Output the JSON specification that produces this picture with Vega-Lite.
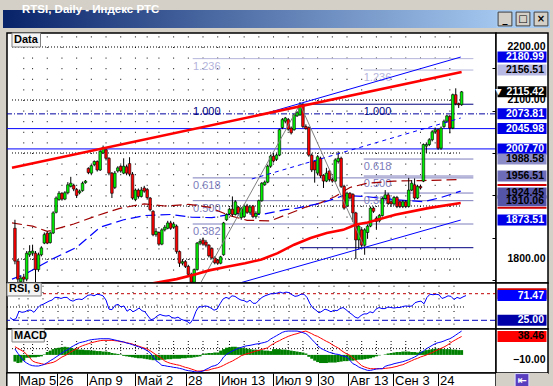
{
"$schema": "https://vega.github.io/schema/vega-lite/v6.json",
"background": "#d4d0c8",
"padding": {"left": 3, "top": 3, "right": 3, "bottom": 5},
"config": {"view": {"stroke": null}, "font": "Liberation Sans",
  "axis": {"domain": false, "grid": false, "ticks": false, "labels": false, "title": null, "minExtent": 0}},
"datasets": {
"px": [
{"t":1,"o":1858,"h":1874,"l":1790,"c":1796,"r":30,"m":12.3,"s":17.1,"g":-14},
{"t":2,"o":1796,"h":1800,"l":1756,"c":1762,"r":26,"m":3.2,"s":13.6,"g":-17},
{"t":3,"o":1757,"h":1768,"l":1755,"c":1764,"r":28,"m":-4.4,"s":10.2,"g":-16},
{"t":4,"o":1766,"h":1772,"l":1756,"c":1762,"r":42,"m":-12.8,"s":6.7,"g":-12},
{"t":5,"o":1762,"h":1815,"l":1758,"c":1811,"r":40,"m":-17,"s":1.1,"g":-6},
{"t":6,"o":1808,"h":1826,"l":1804,"c":1814,"r":41,"m":-20.5,"s":-5.8,"g":-6},
{"t":7,"o":1811,"h":1827,"l":1806,"c":1815,"r":44,"m":-22.5,"s":-12.8,"g":-5},
{"t":8,"o":1811,"h":1815,"l":1755,"c":1780,"r":44,"m":-23.2,"s":-15.6,"g":-5},
{"t":9,"o":1780,"h":1812,"l":1776,"c":1808,"r":40,"m":-23.2,"s":-17,"g":-4},
{"t":10,"o":1808,"h":1824,"l":1805,"c":1821,"r":47,"m":-21.8,"s":-18.4,"g":-3},
{"t":11,"o":1830,"h":1850,"l":1828,"c":1846,"r":53,"m":-19.8,"s":-19.8,"g":1},
{"t":12,"o":1849,"h":1852,"l":1828,"c":1830,"r":55,"m":-16.3,"s":-18.4,"g":6},
{"t":13,"o":1831,"h":1852,"l":1829,"c":1849,"r":58,"m":-12.1,"s":-17,"g":9},
{"t":14,"o":1849,"h":1890,"l":1847,"c":1887,"r":61,"m":-8.6,"s":-15.6,"g":12},
{"t":15,"o":1888,"h":1918,"l":1886,"c":1915,"r":63,"m":-4.4,"s":-12.8,"g":14},
{"t":16,"o":1912,"h":1928,"l":1910,"c":1924,"r":68,"m":-0.3,"s":-8.6,"g":15},
{"t":17,"o":1924,"h":1926,"l":1910,"c":1913,"r":68,"m":3.9,"s":-4.4,"g":16},
{"t":18,"o":1913,"h":1928,"l":1911,"c":1925,"r":66,"m":8.1,"s":-1.7,"g":17},
{"t":19,"o":1925,"h":1945,"l":1922,"c":1940,"r":68,"m":10.9,"s":1.8,"g":16},
{"t":20,"o":1937,"h":1955,"l":1935,"c":1943,"r":68,"m":15.7,"s":6,"g":15},
{"t":21,"o":1939,"h":1942,"l":1928,"c":1932,"r":63,"m":19.2,"s":9.5,"g":13},
{"t":22,"o":1931,"h":1934,"l":1915,"c":1920,"r":61,"m":22.7,"s":12.9,"g":12},
{"t":23,"o":1925,"h":1931,"l":1922,"c":1928,"r":64,"m":25.5,"s":16.4,"g":11},
{"t":24,"o":1929,"h":1946,"l":1927,"c":1943,"r":65,"m":26.9,"s":19.2,"g":11},
{"t":25,"o":1944,"h":1949,"l":1942,"c":1947,"r":64,"m":28.3,"s":21.3,"g":10},
{"t":26,"o":1971,"h":1973,"l":1960,"c":1963,"r":68,"m":30.4,"s":23.4,"g":10},
{"t":27,"o":1962,"h":1978,"l":1960,"c":1976,"r":72,"m":31.8,"s":25.5,"g":9},
{"t":28,"o":1978,"h":1986,"l":1975,"c":1984,"r":73,"m":32.5,"s":26.9,"g":9},
{"t":29,"o":1984,"h":1986,"l":1965,"c":1968,"r":71,"m":33.1,"s":28.3,"g":8},
{"t":30,"o":1968,"h":2006,"l":1966,"c":2003,"r":74,"m":33.8,"s":29.7,"g":8},
{"t":31,"o":2000,"h":2014,"l":1998,"c":2010,"r":73,"m":33.8,"s":30.4,"g":7},
{"t":32,"o":2006,"h":2008,"l":1986,"c":1990,"r":71,"m":33.8,"s":30.4,"g":7},
{"t":33,"o":1990,"h":1992,"l":1958,"c":1962,"r":63,"m":33.8,"s":30.4,"g":6},
{"t":34,"o":1962,"h":1964,"l":1915,"c":1924,"r":46,"m":32.5,"s":30.4,"g":4},
{"t":35,"o":1935,"h":1966,"l":1932,"c":1962,"r":45,"m":31.1,"s":29.7,"g":3},
{"t":36,"o":1966,"h":1975,"l":1963,"c":1972,"r":53,"m":29.7,"s":29,"g":2},
{"t":37,"o":1975,"h":1977,"l":1963,"c":1966,"r":55,"m":28.3,"s":27.6,"g":1},
{"t":38,"o":1962,"h":1990,"l":1960,"c":1975,"r":50,"m":26.9,"s":26.9,"g":-2},
{"t":39,"o":1974,"h":1978,"l":1958,"c":1962,"r":52,"m":24.8,"s":25.5,"g":-3},
{"t":40,"o":1980,"h":1992,"l":1956,"c":1960,"r":42,"m":23.4,"s":24.1,"g":-4},
{"t":41,"o":1960,"h":1964,"l":1912,"c":1915,"r":46,"m":21.3,"s":22.7,"g":-5},
{"t":42,"o":1912,"h":1933,"l":1909,"c":1930,"r":41,"m":19.2,"s":19.9,"g":-6},
{"t":43,"o":1930,"h":1933,"l":1914,"c":1918,"r":44,"m":17.1,"s":18.5,"g":-7},
{"t":44,"o":1918,"h":1936,"l":1916,"c":1930,"r":48,"m":15,"s":16.4,"g":-7},
{"t":45,"o":1934,"h":1938,"l":1925,"c":1928,"r":43,"m":12.3,"s":14.4,"g":-8},
{"t":46,"o":1931,"h":1934,"l":1912,"c":1916,"r":41,"m":8.8,"s":12.3,"g":-9},
{"t":47,"o":1915,"h":1917,"l":1890,"c":1893,"r":33,"m":4.6,"s":8.8,"g":-10},
{"t":48,"o":1890,"h":1892,"l":1843,"c":1846,"r":26,"m":-3.7,"s":4.6,"g":-11},
{"t":49,"o":1846,"h":1858,"l":1842,"c":1852,"r":28,"m":-12.1,"s":0.4,"g":-11},
{"t":50,"o":1850,"h":1852,"l":1825,"c":1828,"r":33,"m":-16.3,"s":-3.7,"g":-11},
{"t":51,"o":1828,"h":1858,"l":1826,"c":1855,"r":36,"m":-21.8,"s":-7.9,"g":-10},
{"t":52,"o":1855,"h":1864,"l":1852,"c":1860,"r":34,"m":-22.5,"s":-12.8,"g":-10},
{"t":53,"o":1858,"h":1872,"l":1856,"c":1868,"r":33,"m":-23.9,"s":-15.6,"g":-9},
{"t":54,"o":1868,"h":1872,"l":1855,"c":1858,"r":34,"m":-24.6,"s":-17.7,"g":-9},
{"t":55,"o":1860,"h":1870,"l":1857,"c":1866,"r":30,"m":-26,"s":-19.1,"g":-8},
{"t":56,"o":1862,"h":1865,"l":1810,"c":1814,"r":29,"m":-26.7,"s":-20.5,"g":-8},
{"t":57,"o":1814,"h":1816,"l":1785,"c":1792,"r":31,"m":-28.1,"s":-21.8,"g":-8},
{"t":58,"o":1792,"h":1800,"l":1788,"c":1795,"r":27,"m":-29.5,"s":-23.9,"g":-7},
{"t":59,"o":1795,"h":1798,"l":1783,"c":1786,"r":25,"m":-31.6,"s":-26,"g":-7},
{"t":60,"o":1786,"h":1789,"l":1768,"c":1771,"r":23,"m":-33,"s":-27.4,"g":-6},
{"t":61,"o":1771,"h":1774,"l":1752,"c":1756,"r":19,"m":-33.7,"s":-29.5,"g":-6},
{"t":62,"o":1756,"h":1782,"l":1754,"c":1780,"r":27,"m":-35.1,"s":-31.6,"g":-5},
{"t":63,"o":1780,"h":1832,"l":1778,"c":1830,"r":42,"m":-35.8,"s":-33.7,"g":-4},
{"t":64,"o":1830,"h":1838,"l":1826,"c":1833,"r":51,"m":-35.1,"s":-33.7,"g":-3},
{"t":65,"o":1836,"h":1840,"l":1825,"c":1828,"r":50,"m":-33.7,"s":-33,"g":2},
{"t":66,"o":1832,"h":1836,"l":1822,"c":1826,"r":52,"m":-30.2,"s":-32.3,"g":3},
{"t":67,"o":1826,"h":1828,"l":1803,"c":1806,"r":51,"m":-27.4,"s":-31.6,"g":4},
{"t":68,"o":1820,"h":1822,"l":1799,"c":1802,"r":48,"m":-23.9,"s":-29.5,"g":4},
{"t":69,"o":1802,"h":1805,"l":1790,"c":1793,"r":44,"m":-22.5,"s":-28.1,"g":5},
{"t":70,"o":1798,"h":1800,"l":1789,"c":1792,"r":46,"m":-19.8,"s":-26.7,"g":5},
{"t":71,"o":1792,"h":1806,"l":1790,"c":1804,"r":56,"m":-13.5,"s":-24.6,"g":9},
{"t":72,"o":1808,"h":1870,"l":1806,"c":1868,"r":65,"m":-4.4,"s":-21.8,"g":12},
{"t":73,"o":1874,"h":1886,"l":1872,"c":1884,"r":68,"m":1.1,"s":-18.4,"g":15},
{"t":74,"o":1885,"h":1897,"l":1883,"c":1894,"r":66,"m":4.6,"s":-15.6,"g":16},
{"t":75,"o":1894,"h":1918,"l":1880,"c":1884,"r":71,"m":8.1,"s":-12.8,"g":17},
{"t":76,"o":1884,"h":1911,"l":1882,"c":1908,"r":70,"m":10.9,"s":-9.3,"g":17},
{"t":77,"o":1898,"h":1900,"l":1882,"c":1886,"r":66,"m":13.7,"s":-5.8,"g":16},
{"t":78,"o":1878,"h":1898,"l":1874,"c":1895,"r":63,"m":15.7,"s":-1.7,"g":15},
{"t":79,"o":1880,"h":1903,"l":1878,"c":1900,"r":62,"m":17.8,"s":0.4,"g":14},
{"t":80,"o":1900,"h":1904,"l":1885,"c":1888,"r":59,"m":19.2,"s":2.5,"g":13},
{"t":81,"o":1888,"h":1902,"l":1884,"c":1898,"r":63,"m":19.9,"s":3.9,"g":12},
{"t":82,"o":1900,"h":1902,"l":1877,"c":1880,"r":57,"m":21.3,"s":6,"g":11},
{"t":83,"o":1880,"h":1890,"l":1876,"c":1886,"r":57,"m":22.7,"s":8.1,"g":11},
{"t":84,"o":1886,"h":1912,"l":1884,"c":1910,"r":63,"m":23.4,"s":9.5,"g":10},
{"t":85,"o":1910,"h":1945,"l":1908,"c":1943,"r":68,"m":24.8,"s":11.6,"g":10},
{"t":86,"o":1940,"h":1948,"l":1938,"c":1945,"r":71,"m":26.2,"s":12.9,"g":9},
{"t":87,"o":1945,"h":1978,"l":1943,"c":1975,"r":73,"m":28.3,"s":15,"g":9},
{"t":88,"o":1975,"h":1997,"l":1972,"c":1994,"r":75,"m":33.1,"s":19.9,"g":8},
{"t":89,"o":1994,"h":1998,"l":1982,"c":1985,"r":75,"m":36.6,"s":23.4,"g":12},
{"t":90,"o":1988,"h":1999,"l":1985,"c":1996,"r":76,"m":40.1,"s":26.9,"g":12},
{"t":91,"o":1996,"h":2046,"l":1994,"c":2044,"r":78,"m":43.6,"s":29.7,"g":12},
{"t":92,"o":2048,"h":2066,"l":2045,"c":2063,"r":76,"m":47.1,"s":33.1,"g":11},
{"t":93,"o":2060,"h":2068,"l":2056,"c":2066,"r":78,"m":49.1,"s":35.9,"g":11},
{"t":94,"o":2063,"h":2066,"l":2042,"c":2045,"r":77,"m":49.8,"s":38.7,"g":10},
{"t":95,"o":2047,"h":2050,"l":2035,"c":2038,"r":73,"m":49.8,"s":40.8,"g":9},
{"t":96,"o":2044,"h":2074,"l":2042,"c":2072,"r":70,"m":49.8,"s":42.9,"g":8},
{"t":97,"o":2070,"h":2079,"l":2068,"c":2076,"r":71,"m":49.8,"s":44.3,"g":7},
{"t":98,"o":2072,"h":2096,"l":2070,"c":2091,"r":74,"m":48.5,"s":46.4,"g":6},
{"t":99,"o":2091,"h":2094,"l":2047,"c":2050,"r":74,"m":46.4,"s":48.5,"g":5},
{"t":100,"o":2050,"h":2054,"l":2044,"c":2046,"r":68,"m":44.3,"s":49.8,"g":3},
{"t":101,"o":2048,"h":2050,"l":1993,"c":1996,"r":56,"m":39.4,"s":47.1,"g":-4},
{"t":102,"o":1996,"h":1999,"l":1964,"c":1968,"r":48,"m":32.5,"s":44.3,"g":-8},
{"t":103,"o":1984,"h":1986,"l":1944,"c":1968,"r":44,"m":26.2,"s":40.8,"g":-12},
{"t":104,"o":1962,"h":1996,"l":1958,"c":1993,"r":39,"m":19.2,"s":38.7,"g":-15},
{"t":105,"o":1990,"h":1993,"l":1953,"c":1957,"r":42,"m":14.4,"s":35.2,"g":-17},
{"t":106,"o":1958,"h":1960,"l":1934,"c":1947,"r":46,"m":10.9,"s":31.8,"g":-17},
{"t":107,"o":1947,"h":1972,"l":1945,"c":1962,"r":44,"m":8.1,"s":28.3,"g":-17},
{"t":108,"o":1966,"h":1968,"l":1946,"c":1950,"r":41,"m":5.3,"s":25.5,"g":-16},
{"t":109,"o":1950,"h":1953,"l":1944,"c":1947,"r":44,"m":3.9,"s":21.3,"g":-16},
{"t":110,"o":1947,"h":1990,"l":1945,"c":1987,"r":43,"m":1.8,"s":17.8,"g":-16},
{"t":111,"o":1984,"h":2003,"l":1980,"c":1990,"r":47,"m":1.1,"s":14.4,"g":-15},
{"t":112,"o":1990,"h":1993,"l":1934,"c":1937,"r":49,"m":-1,"s":9.5,"g":-14},
{"t":113,"o":1937,"h":1940,"l":1893,"c":1896,"r":45,"m":-3,"s":5.3,"g":-13},
{"t":114,"o":1900,"h":1927,"l":1898,"c":1924,"r":40,"m":-4.4,"s":1.8,"g":-13},
{"t":115,"o":1924,"h":1926,"l":1912,"c":1915,"r":36,"m":-11.4,"s":-1,"g":-12},
{"t":116,"o":1922,"h":1924,"l":1870,"c":1887,"r":31,"m":-18.4,"s":-6.5,"g":-12},
{"t":117,"o":1887,"h":1889,"l":1800,"c":1836,"r":29,"m":-21.1,"s":-11.4,"g":-11},
{"t":118,"o":1836,"h":1866,"l":1818,"c":1862,"r":34,"m":-25.3,"s":-17,"g":-10},
{"t":119,"o":1855,"h":1858,"l":1822,"c":1826,"r":37,"m":-28.1,"s":-22.5,"g":-10},
{"t":120,"o":1826,"h":1858,"l":1808,"c":1855,"r":37,"m":-30.2,"s":-25.3,"g":-9},
{"t":121,"o":1850,"h":1865,"l":1838,"c":1862,"r":41,"m":-32.3,"s":-27.4,"g":-8},
{"t":122,"o":1862,"h":1899,"l":1860,"c":1896,"r":39,"m":-32.3,"s":-28.8,"g":-7},
{"t":123,"o":1896,"h":1899,"l":1887,"c":1890,"r":46,"m":-30.9,"s":-28.8,"g":-5},
{"t":124,"o":1877,"h":1880,"l":1855,"c":1871,"r":49,"m":-29.5,"s":-28.8,"g":-3},
{"t":125,"o":1872,"h":1885,"l":1869,"c":1882,"r":47,"m":-28.8,"s":-28.8,"g":-1},
{"t":126,"o":1882,"h":1917,"l":1880,"c":1914,"r":47,"m":-28.8,"s":-28.8,"g":0},
{"t":127,"o":1914,"h":1930,"l":1912,"c":1921,"r":50,"m":-23.9,"s":-28.1,"g":1},
{"t":128,"o":1921,"h":1925,"l":1902,"c":1905,"r":49,"m":-21.8,"s":-27.4,"g":3},
{"t":129,"o":1908,"h":1910,"l":1900,"c":1904,"r":48,"m":-20.5,"s":-26.7,"g":4},
{"t":130,"o":1904,"h":1919,"l":1901,"c":1916,"r":49,"m":-18.4,"s":-25.3,"g":5},
{"t":131,"o":1916,"h":1919,"l":1896,"c":1899,"r":49,"m":-17,"s":-23.9,"g":6},
{"t":132,"o":1908,"h":1910,"l":1896,"c":1899,"r":51,"m":-15.6,"s":-21.8,"g":6},
{"t":133,"o":1899,"h":1911,"l":1896,"c":1908,"r":52,"m":-14.2,"s":-20.5,"g":7},
{"t":134,"o":1908,"h":1911,"l":1896,"c":1899,"r":51,"m":-12.1,"s":-17.7,"g":7},
{"t":135,"o":1899,"h":1953,"l":1897,"c":1930,"r":52,"m":-10,"s":-14.9,"g":7},
{"t":136,"o":1930,"h":1949,"l":1928,"c":1943,"r":58,"m":-7.2,"s":-12.1,"g":6},
{"t":137,"o":1940,"h":1952,"l":1912,"c":1915,"r":60,"m":-4.4,"s":-9.3,"g":6},
{"t":138,"o":1915,"h":1940,"l":1913,"c":1937,"r":61,"m":-1,"s":-7.2,"g":5},
{"t":139,"o":1937,"h":1940,"l":1931,"c":1934,"r":56,"m":3.9,"s":-4.4,"g":7},
{"t":140,"o":1947,"h":2018,"l":1945,"c":2016,"r":68,"m":8.1,"s":-2.4,"g":8},
{"t":141,"o":2013,"h":2020,"l":2000,"c":2016,"r":74,"m":12.9,"s":-0.3,"g":10},
{"t":142,"o":2016,"h":2028,"l":2013,"c":2025,"r":73,"m":16.4,"s":2.5,"g":11},
{"t":143,"o":2025,"h":2043,"l":2022,"c":2040,"r":74,"m":19.9,"s":4.6,"g":12},
{"t":144,"o":2040,"h":2048,"l":2036,"c":2044,"r":73,"m":23.4,"s":8.1,"g":13},
{"t":145,"o":2044,"h":2046,"l":2006,"c":2009,"r":66,"m":25.5,"s":10.9,"g":13},
{"t":146,"o":2009,"h":2050,"l":2006,"c":2047,"r":68,"m":26.9,"s":13.7,"g":13},
{"t":147,"o":2050,"h":2063,"l":2047,"c":2060,"r":71,"m":29,"s":16.4,"g":12},
{"t":148,"o":2060,"h":2072,"l":2057,"c":2070,"r":70,"m":31.8,"s":19.9,"g":12},
{"t":149,"o":2069,"h":2072,"l":2037,"c":2047,"r":64,"m":33.8,"s":24.1,"g":12},
{"t":150,"o":2047,"h":2112,"l":2045,"c":2110,"r":68,"m":37.3,"s":28.3,"g":11},
{"t":151,"o":2110,"h":2122,"l":2090,"c":2093,"r":66,"m":41.5,"s":31.8,"g":11},
{"t":152,"o":2093,"h":2095,"l":2085,"c":2091,"r":69,"m":45.7,"s":35.2,"g":10},
{"t":153,"o":2091,"h":2117,"l":2089,"c":2115.42,"r":71.47,"m":49.8,"s":38.46,"g":10}
],
"cols": [{"x":4},{"x":7},{"x":12},{"x":17},{"x":22},{"x":27},{"x":32},{"x":37},{"x":42},{"x":46},{"x":50},{"x":55},{"x":60},{"x":65},{"x":70},{"x":74},{"x":79},{"x":84},{"x":89},{"x":94},{"x":99},{"x":104},{"x":109},{"x":114},{"x":119},{"x":124},{"x":129},{"x":134},{"x":139},{"x":144},{"x":149}],
"pgrid": [{"g":1800},{"g":1900},{"g":2000},{"g":2100},{"g":2200}],
"fib": [
{"k":"light","a":61.5,"b":157,"v":2178},
{"k":"light","a":119.7,"b":157,"v":2156.51},
{"k":"mid","a":61.5,"b":157,"v":1953},
{"k":"mid","a":61.5,"b":157,"v":1910.06},
{"k":"mid","a":61.5,"b":157,"v":1866},
{"k":"mid","a":119.7,"b":157,"v":1988.58},
{"k":"mid","a":119.7,"b":157,"v":1956.51},
{"k":"mid","a":119.7,"b":157,"v":1924.45},
{"k":"dark","a":98,"b":157,"v":2092},
{"k":"dark","a":98,"b":157,"v":1821.3}
],
"fiblab": [
{"k":"light","t":61.6,"v":2178,"txt":"1.236"},
{"k":"dark","t":61.6,"v":2092,"txt":"1.000"},
{"k":"mid","t":61.6,"v":1953,"txt":"0.618"},
{"k":"mid","t":61.6,"v":1910.06,"txt":"0.500"},
{"k":"mid","t":61.6,"v":1866,"txt":"0.382"},
{"k":"light","t":119.7,"v":2156.51,"txt":"1.236"},
{"k":"dark","t":119.7,"v":2092,"txt":"1.000"},
{"k":"mid","t":119.7,"v":1988.58,"txt":"0.618"},
{"k":"mid","t":119.7,"v":1956.51,"txt":"0.500"},
{"k":"mid","t":119.7,"v":1924.45,"txt":"0.382"}
],
"tl": [
{"id":"red","t":0,"v":1972},{"id":"red","t":153,"v":2153},
{"id":"bhi","t":84,"v":2071},{"id":"bhi","t":152.7,"v":2181},
{"id":"blo","t":77.7,"v":1755},{"id":"blo","t":152.7,"v":1873.5},
{"id":"bmid","t":81.6,"v":1951},{"id":"bmid","t":152.7,"v":2066},
{"id":"zig","t":61.5,"v":1728},{"id":"zig","t":98,"v":2092},{"id":"zig","t":120,"v":1821.3}
],
"ma": [
{"id":"m1","t":48,"v":1754},{"id":"m1","t":56,"v":1762},{"id":"m1","t":61.6,"v":1770},{"id":"m1","t":67.1,"v":1778.5},{"id":"m1","t":72.7,"v":1785},{"id":"m1","t":79.3,"v":1792},{"id":"m1","t":84.9,"v":1799},{"id":"m1","t":90.4,"v":1811},{"id":"m1","t":96,"v":1827},{"id":"m1","t":101.6,"v":1839.5},{"id":"m1","t":107.1,"v":1849},{"id":"m1","t":112.7,"v":1855},{"id":"m1","t":117.1,"v":1865},{"id":"m1","t":121,"v":1869},{"id":"m1","t":130.4,"v":1883.6},{"id":"m1","t":141.6,"v":1896},{"id":"m1","t":152.7,"v":1905.6},
{"id":"m2","t":0,"v":1868},{"id":"m2","t":7,"v":1862},{"id":"m2","t":12,"v":1852},{"id":"m2","t":21,"v":1866},{"id":"m2","t":29,"v":1882},{"id":"m2","t":37,"v":1896},{"id":"m2","t":45,"v":1904},{"id":"m2","t":52,"v":1900},{"id":"m2","t":60,"v":1903},{"id":"m2","t":67,"v":1898},{"id":"m2","t":74,"v":1882},{"id":"m2","t":80,"v":1873},{"id":"m2","t":88,"v":1872},{"id":"m2","t":94,"v":1885},{"id":"m2","t":100,"v":1898},{"id":"m2","t":105,"v":1906},{"id":"m2","t":110,"v":1918},{"id":"m2","t":115,"v":1935},{"id":"m2","t":121,"v":1943},{"id":"m2","t":130,"v":1947},{"id":"m2","t":140,"v":1948},{"id":"m2","t":152.7,"v":1950},
{"id":"m3","t":0,"v":1762},{"id":"m3","t":5,"v":1773},{"id":"m3","t":13,"v":1798},{"id":"m3","t":22,"v":1822},{"id":"m3","t":30,"v":1860},{"id":"m3","t":38,"v":1874},{"id":"m3","t":45,"v":1882},{"id":"m3","t":54,"v":1884},{"id":"m3","t":61,"v":1879},{"id":"m3","t":68,"v":1878},{"id":"m3","t":76,"v":1886},{"id":"m3","t":85,"v":1884},{"id":"m3","t":93,"v":1893},{"id":"m3","t":97,"v":1896},{"id":"m3","t":105,"v":1905},{"id":"m3","t":113,"v":1920},{"id":"m3","t":120,"v":1918},{"id":"m3","t":130,"v":1912},{"id":"m3","t":140,"v":1908},{"id":"m3","t":146,"v":1916},{"id":"m3","t":152.7,"v":1928}
],
"ptags": [
{"v":1939.5,"k":"ma"},{"v":1896.5,"k":"ma"},
{"v":2180.99,"k":"line"},{"v":2156.51,"k":"f1"},{"v":2115.42,"k":"last"},{"v":2073.81,"k":"line"},{"v":2045.98,"k":"line"},{"v":2007.70,"k":"line"},{"v":1988.58,"k":"f2"},{"v":1956.51,"k":"f3"},{"v":1910.06,"k":"f4"},{"v":1924.45,"k":"f4"},{"v":1873.51,"k":"line"}
]
},
"columns": 3,
"spacing": {"row": 0, "column": 0},
"bounds": "flush",
"concat": [
  {"width": 4, "height": 18, "view": {"fill": "#0a246a", "stroke": null}, "data": {"values": []}, "mark": "point", "encoding": {}},
  {"width": 489, "height": 18, "data": {"values": [{"n": 1}]},
   "title": {"text": "RTSI, Daily - Индекс РТС", "anchor": "start", "frame": "group", "offset": -14, "dx": 15, "color": "white", "font": "Liberation Sans", "fontSize": 11.5, "fontWeight": "bold", "baseline": "alphabetic"},
   "mark": {"type": "rect", "color": {"gradient": "linear", "x1": 0, "y1": 0, "x2": 1, "y2": 0, "stops": [{"offset": 0, "color": "#0a246a"}, {"offset": 1, "color": "#a2c6ee"}]}},
   "encoding": {}},
  {"width": 54, "height": 18, "view": {"fill": "#a6caf0", "stroke": null},
   "data": {"values": [{"b": "1", "g": "_"}, {"b": "2", "g": "□"}, {"b": "3", "g": "×"}]},
   "layer": [
     {"mark": {"type": "point", "shape": "square", "size": 190, "filled": true, "fill": "#d4d0c8", "stroke": "#404040", "strokeWidth": 1, "opacity": 1},
      "encoding": {"x": {"field": "b", "type": "nominal", "axis": null, "scale": {"type": "point", "padding": 0.5}}}},
     {"mark": {"type": "text", "font": "DejaVu Sans", "fontSize": 10, "fontWeight": "bold", "color": "black"},
      "encoding": {"x": {"field": "b", "type": "nominal", "axis": null}, "text": {"field": "g"}}}
   ]},
  {"width": 4, "height": 5, "data": {"values": []}, "mark": "point", "encoding": {}},
  {"width": 489, "height": 5, "data": {"values": []}, "mark": "point", "encoding": {}},
  {"width": 52, "height": 5, "data": {"values": []}, "mark": "point", "encoding": {}},

  {"width": 4, "height": 1, "data": {"values": []}, "mark": "point", "encoding": {}},
  {"width": 489, "height": 250, "view": {"fill": "white", "stroke": "black", "strokeWidth": 1.5},
   "layer": [
    {"data": {"name": "cols"}, "mark": {"type": "rule", "color": "black", "strokeDash": [1, 9.6]},
     "encoding": {"x": {"field": "x", "type": "quantitative", "scale": {"domain": [0, 163], "nice": false, "zero": false}, "axis": null},
       "y": {"datum": 2220, "type": "quantitative", "scale": {"domain": [1754.7, 2226.4], "nice": false, "zero": false},
         "axis": {"orient": "right", "offset": -4, "ticks": true, "tickSize": 4, "tickColor": "black", "labels": false,
           "values": [1760,1780,1800,1820,1840,1860,1880,1900,1920,1940,1960,1980,2000,2020,2040,2060,2080,2100,2120,2140,2160,2180,2200,2220]}},
       "y2": {"datum": 1760}}},
    {"data": {"name": "pgrid"}, "mark": {"type": "rule", "color": "black", "strokeDash": [1, 2]},
     "encoding": {"y": {"field": "g", "type": "quantitative"}, "x": {"datum": 0, "type": "quantitative", "axis": null}, "x2": {"datum": 153}}},
    {"data": {"values": [{"v": 2073.81}]}, "mark": {"type": "rule", "color": "#0000a0", "strokeDash": [6, 2, 1, 2]},
     "encoding": {"y": {"field": "v", "type": "quantitative"}}},
    {"data": {"values": [{"v": 2045.98}, {"v": 2007.70}]}, "mark": {"type": "rule", "color": "#0000ff"},
     "encoding": {"y": {"field": "v", "type": "quantitative"}}},
    {"data": {"name": "fib"}, "mark": {"type": "rule", "strokeWidth": 1},
     "encoding": {"x": {"field": "a", "type": "quantitative", "axis": null}, "x2": {"field": "b"}, "y": {"field": "v", "type": "quantitative"},
       "color": {"field": "k", "type": "nominal", "legend": null, "scale": {"domain": ["light", "mid", "dark"], "range": ["#b4b4dc", "#7c7cbc", "#000080"]}}}},
    {"data": {"name": "fiblab"}, "mark": {"type": "text", "align": "left", "baseline": "top", "dy": 2, "font": "Liberation Sans", "fontSize": 11},
     "encoding": {"x": {"field": "t", "type": "quantitative", "axis": null}, "y": {"field": "v", "type": "quantitative"}, "text": {"field": "txt"},
       "color": {"field": "k", "type": "nominal", "legend": null}}},
    {"data": {"name": "ma"}, "transform": [{"filter": "datum.id == 'm2'"}], "mark": {"type": "line", "color": "#a00000", "strokeWidth": 1.2, "strokeDash": [10, 5]},
     "encoding": {"x": {"field": "t", "type": "quantitative", "axis": null}, "y": {"field": "v", "type": "quantitative"}}},
    {"data": {"name": "ma"}, "transform": [{"filter": "datum.id == 'm3'"}], "mark": {"type": "line", "color": "#0000ff", "strokeWidth": 1.2, "strokeDash": [10, 5]},
     "encoding": {"x": {"field": "t", "type": "quantitative", "axis": null}, "y": {"field": "v", "type": "quantitative"}}},
    {"data": {"name": "px"}, "mark": {"type": "rule", "color": "black", "strokeWidth": 1},
     "encoding": {"x": {"field": "t", "type": "quantitative", "axis": null}, "y": {"field": "l", "type": "quantitative"}, "y2": {"field": "h"}}},
    {"data": {"name": "px"}, "mark": {"type": "bar", "width": 2.6, "stroke": "black", "strokeWidth": 0.6},
     "encoding": {"x": {"field": "t", "type": "quantitative", "axis": null}, "y": {"field": "o", "type": "quantitative"}, "y2": {"field": "c"},
       "fill": {"condition": {"test": "datum.c >= datum.o", "value": "#00ee00"}, "value": "#ff0000"}}},
    {"data": {"name": "tl"}, "transform": [{"filter": "datum.id == 'zig'"}], "mark": {"type": "line", "color": "#808080", "strokeWidth": 1, "clip": true},
     "encoding": {"x": {"field": "t", "type": "quantitative", "axis": null}, "y": {"field": "v", "type": "quantitative"}}},
    {"data": {"name": "tl"}, "transform": [{"filter": "datum.id == 'bhi' || datum.id == 'blo'"}], "mark": {"type": "line", "color": "#0000ff", "strokeWidth": 1},
     "encoding": {"x": {"field": "t", "type": "quantitative", "axis": null}, "y": {"field": "v", "type": "quantitative"}, "detail": {"field": "id"}}},
    {"data": {"name": "tl"}, "transform": [{"filter": "datum.id == 'bmid'"}], "mark": {"type": "line", "color": "#0000ff", "strokeWidth": 1, "strokeDash": [4, 4]},
     "encoding": {"x": {"field": "t", "type": "quantitative", "axis": null}, "y": {"field": "v", "type": "quantitative"}}},
    {"data": {"name": "ma"}, "transform": [{"filter": "datum.id == 'm1'"}], "mark": {"type": "line", "color": "#ff0000", "strokeWidth": 2.6},
     "encoding": {"x": {"field": "t", "type": "quantitative", "axis": null}, "y": {"field": "v", "type": "quantitative"}}},
    {"data": {"name": "tl"}, "transform": [{"filter": "datum.id == 'red'"}], "mark": {"type": "line", "color": "#ff0000", "strokeWidth": 2.6},
     "encoding": {"x": {"field": "t", "type": "quantitative", "axis": null}, "y": {"field": "v", "type": "quantitative"}}},
    {"data": {"values": [{"lab": "Data"}]}, "mark": {"type": "rect", "fill": "#f4f4f4", "stroke": "#808080", "strokeWidth": 1},
     "encoding": {"x": {"datum": 0, "type": "quantitative", "axis": null}, "x2": {"datum": 9.7}, "y": {"datum": 2226.4, "type": "quantitative"}, "y2": {"datum": 2200}}},
    {"data": {"values": [{"lab": "Data"}]}, "mark": {"type": "text", "align": "left", "baseline": "middle", "dx": 2, "font": "Liberation Sans", "fontSize": 11, "fontWeight": "bold", "color": "black"},
     "encoding": {"x": {"datum": 0, "type": "quantitative", "axis": null}, "y": {"datum": 2213.5, "type": "quantitative"}, "text": {"field": "lab"}}}
   ]},
  {"width": 52, "height": 250, "view": {"fill": "white", "stroke": "black", "strokeWidth": 1.5},
   "data": {"name": "ptags"},
   "transform": [{"calculate": "(datum.k == 'last' ? '▼ ' : '') + format(datum.v, '.2f')", "as": "lab"}],
   "layer": [
    {"transform": [{"filter": "datum.k == 'ma'"}], "mark": {"type": "tick", "size": 49, "thickness": 2, "color": "#d00000", "opacity": 1},
     "encoding": {"y": {"field": "v", "type": "quantitative", "scale": {"domain": [1754.7, 2226.4], "nice": false, "zero": false},
       "axis": {"orient": "left", "offset": -52, "labels": true, "values": [1800, 2100, 2200], "format": ".2f", "labelAlign": "right", "labelPadding": 3, "tickSize": 0, "labelFont": "Liberation Sans", "labelFontSize": 10.5, "labelFontWeight": "bold", "labelColor": "black", "labelBaseline": "middle"}},
       "opacity": {"value": 1}}},
    {"transform": [{"filter": "datum.k != 'ma'"}], "mark": {"type": "tick", "size": 49, "thickness": 11, "filled": true},
     "encoding": {"y": {"field": "v", "type": "quantitative"},
       "opacity": {"value": 1},
       "color": {"condition": [
         {"test": "datum.k == 'last'", "value": "#000000"},
         {"test": "datum.k == 'f1'", "value": "#b8b8e4"},
         {"test": "datum.k == 'f2'", "value": "#8c8cc8"},
         {"test": "datum.k == 'f3'", "value": "#6c6cb8"},
         {"test": "datum.k == 'f4'", "value": "#5454a8"}], "value": "#0000e8"}}},
    {"transform": [{"filter": "datum.k != 'ma'"}], "mark": {"type": "text", "align": "right", "baseline": "middle", "dx": 22, "font": "Liberation Sans", "fontSize": 10.5, "fontWeight": "bold"},
     "encoding": {"y": {"field": "v", "type": "quantitative"}, "text": {"field": "lab"},
       "color": {"condition": {"test": "indexof(['f1','f2','f3','f4'], datum.k) >= 0", "value": "black"}, "value": "white"}}}
   ]},

  {"width": 4, "height": 1, "data": {"values": []}, "mark": "point", "encoding": {}},
  {"width": 489, "height": 46, "view": {"fill": "white", "stroke": "black", "strokeWidth": 1.5},
   "layer": [
    {"data": {"name": "cols"}, "mark": {"type": "rule", "color": "black", "strokeDash": [1, 5.32]},
     "encoding": {"x": {"field": "x", "type": "quantitative", "scale": {"domain": [0, 163], "nice": false, "zero": false}, "axis": null},
       "y": {"datum": 90, "type": "quantitative", "scale": {"domain": [8.65, 95.1], "nice": false, "zero": false}, "axis": null}, "y2": {"datum": 10}}},
    {"data": {"values": [{"v": 50}]}, "mark": {"type": "rule", "color": "black", "strokeDash": [1, 2]},
     "encoding": {"y": {"field": "v", "type": "quantitative", "axis": null}, "x": {"datum": 0, "type": "quantitative", "axis": null}, "x2": {"datum": 153}}},
    {"data": {"values": [{"v": 75}]}, "mark": {"type": "rule", "color": "#c00000", "strokeDash": [3, 3]},
     "encoding": {"y": {"field": "v", "type": "quantitative", "axis": null}}},
    {"data": {"values": [{"v": 25}]}, "mark": {"type": "rule", "color": "#0000c0", "strokeDash": [6, 3]},
     "encoding": {"y": {"field": "v", "type": "quantitative", "axis": null}}},
    {"data": {"name": "px"}, "mark": {"type": "line", "color": "#0000ff", "strokeWidth": 1},
     "encoding": {"x": {"field": "t", "type": "quantitative", "axis": null}, "y": {"field": "r", "type": "quantitative", "axis": null}}},
    {"data": {"values": [{"lab": "RSI, 9"}]}, "mark": {"type": "rect", "fill": "#f4f4f4", "stroke": "#808080", "strokeWidth": 1},
     "encoding": {"x": {"datum": 0, "type": "quantitative", "axis": null}, "x2": {"datum": 11.4}, "y": {"datum": 95.1, "type": "quantitative", "axis": null}, "y2": {"datum": 70.7}}},
    {"data": {"values": [{"lab": "RSI, 9"}]}, "mark": {"type": "text", "align": "left", "baseline": "middle", "dx": 2, "font": "Liberation Sans", "fontSize": 11, "fontWeight": "bold", "color": "black"},
     "encoding": {"x": {"datum": 0, "type": "quantitative", "axis": null}, "y": {"datum": 83, "type": "quantitative", "axis": null}, "text": {"field": "lab"}}}
   ]},
  {"width": 52, "height": 46, "view": {"fill": "white", "stroke": "black", "strokeWidth": 1.5},
   "data": {"values": [{"v": 75, "k": "ma"}, {"v": 71.47, "k": "line"}, {"v": 25, "k": "lvl"}]},
   "transform": [{"calculate": "format(datum.v, '.2f')", "as": "lab"}],
   "layer": [
    {"mark": {"type": "tick", "size": 49, "thickness": 11, "filled": true},
     "encoding": {"y": {"field": "v", "type": "quantitative", "scale": {"domain": [8.65, 95.1], "nice": false, "zero": false}, "axis": null},
       "opacity": {"value": 1},
       "color": {"condition": [{"test": "datum.k == 'ma'", "value": "#d00000"}, {"test": "datum.k == 'lvl'", "value": "#0000a8"}], "value": "#0000ff"}}},
    {"transform": [{"filter": "datum.k != 'ma'"}], "mark": {"type": "text", "align": "right", "baseline": "middle", "dx": 22, "font": "Liberation Sans", "fontSize": 10.5, "fontWeight": "bold", "color": "white"},
     "encoding": {"y": {"field": "v", "type": "quantitative", "axis": null}, "text": {"field": "lab"}}}
   ]},

  {"width": 4, "height": 1, "data": {"values": []}, "mark": "point", "encoding": {}},
  {"width": 489, "height": 44, "view": {"fill": "white", "stroke": "black", "strokeWidth": 1.5},
   "layer": [
    {"data": {"name": "cols"}, "mark": {"type": "rule", "color": "black", "strokeDash": [1, 2]},
     "encoding": {"x": {"field": "x", "type": "quantitative", "scale": {"domain": [0, 163], "nice": false, "zero": false}, "axis": null},
       "y": {"datum": 29, "type": "quantitative", "scale": {"domain": [-37.8, 54.1], "nice": false, "zero": false}, "axis": null}, "y2": {"datum": 0}}},
    {"data": {"values": [{"v": 13}]}, "mark": {"type": "rule", "color": "black", "strokeDash": [1, 2]},
     "encoding": {"y": {"field": "v", "type": "quantitative", "axis": null}, "x": {"datum": 0, "type": "quantitative", "axis": null}, "x2": {"datum": 153}}},
    {"data": {"name": "px"}, "mark": {"type": "bar", "width": 3, "color": "#008000"},
     "encoding": {"x": {"field": "t", "type": "quantitative", "axis": null}, "y": {"field": "g", "type": "quantitative", "axis": null}}},
    {"data": {"name": "px"}, "mark": {"type": "line", "color": "#ff0000", "strokeWidth": 1},
     "encoding": {"x": {"field": "t", "type": "quantitative", "axis": null}, "y": {"field": "s", "type": "quantitative", "axis": null}}},
    {"data": {"name": "px"}, "mark": {"type": "line", "color": "#0000ff", "strokeWidth": 1},
     "encoding": {"x": {"field": "t", "type": "quantitative", "axis": null}, "y": {"field": "m", "type": "quantitative", "axis": null}}},
    {"data": {"values": [{"lab": "MACD"}]}, "mark": {"type": "rect", "fill": "#f4f4f4", "stroke": "#808080", "strokeWidth": 1},
     "encoding": {"x": {"datum": 0, "type": "quantitative", "axis": null}, "x2": {"datum": 11}, "y": {"datum": 54.1, "type": "quantitative", "axis": null}, "y2": {"datum": 27}}},
    {"data": {"values": [{"lab": "MACD"}]}, "mark": {"type": "text", "align": "left", "baseline": "middle", "dx": 2, "font": "Liberation Sans", "fontSize": 11, "fontWeight": "bold", "color": "black"},
     "encoding": {"x": {"datum": 0, "type": "quantitative", "axis": null}, "y": {"datum": 40.5, "type": "quantitative", "axis": null}, "text": {"field": "lab"}}}
   ]},
  {"width": 52, "height": 44, "view": {"fill": "white", "stroke": "black", "strokeWidth": 1.5},
   "data": {"values": [{"v": 38.46, "k": "sig"}]},
   "transform": [{"calculate": "format(datum.v, '.2f')", "as": "lab"}],
   "layer": [
    {"mark": {"type": "tick", "size": 49, "thickness": 11, "color": "#ff0000", "opacity": 1},
     "encoding": {"y": {"field": "v", "type": "quantitative", "scale": {"domain": [-37.8, 54.1], "nice": false, "zero": false},
       "axis": {"orient": "left", "offset": -52, "labels": true, "values": [-10], "format": ".2f", "labelAlign": "right", "labelPadding": 3, "tickSize": 0, "labelFont": "Liberation Sans", "labelFontSize": 10.5, "labelFontWeight": "bold", "labelColor": "black", "labelBaseline": "middle"}}}},
    {"mark": {"type": "text", "align": "right", "baseline": "middle", "dx": 22, "font": "Liberation Sans", "fontSize": 10.5, "fontWeight": "bold", "color": "black"},
     "encoding": {"y": {"field": "v", "type": "quantitative"}, "text": {"field": "lab"}}}
   ]},

  {"width": 4, "height": 1, "data": {"values": []}, "mark": "point", "encoding": {}},
  {"width": 489, "height": 15, "view": {"fill": "white", "stroke": "black", "strokeWidth": 1.5},
   "data": {"values": [{"a": 0, "b": 4.2}]},
   "mark": {"type": "rect", "fill": "white", "stroke": "black", "strokeWidth": 1},
   "encoding": {"x": {"field": "a", "type": "quantitative", "scale": {"domain": [0, 163], "nice": false, "zero": false},
     "axis": {"orient": "bottom", "offset": -15, "values": [3.5, 16.5, 26.5, 42.5, 59.5, 70.5, 88.5, 103.5, 113.5, 128.5, 143.5],
       "labelExpr": "['Мар 5','26','Апр 9','Май 2','28','Июн 13','Июл 9','30','Авг 13','Сен 3','24'][indexof([3.5,16.5,26.5,42.5,59.5,70.5,88.5,103.5,113.5,128.5,143.5], datum.value)]",
       "ticks": true, "tickSize": 15, "tickColor": "black", "tickWidth": 1, "labels": true, "labelAlign": "left", "labelBaseline": "top", "labelPadding": -14, "labelOffset": 2,
       "labelFont": "Liberation Sans", "labelFontSize": 13, "labelColor": "black", "labelOverlap": false, "labelFlush": false, "labelBound": false}},
     "x2": {"field": "b"}}},
  {"width": 52, "height": 15, "view": {"fill": "#d4d0c8", "stroke": null},
   "data": {"values": [{"icon": "⇤"}]},
   "layer": [
    {"mark": {"type": "point", "shape": "square", "size": 190, "filled": true, "fill": "#5a3ec0", "stroke": "#e0e0ff", "strokeWidth": 1, "opacity": 1}, "encoding": {}},
    {"mark": {"type": "text", "color": "white", "font": "DejaVu Sans", "fontSize": 11, "fontWeight": "bold"}, "encoding": {"text": {"field": "icon"}}}
   ]}
]
}
